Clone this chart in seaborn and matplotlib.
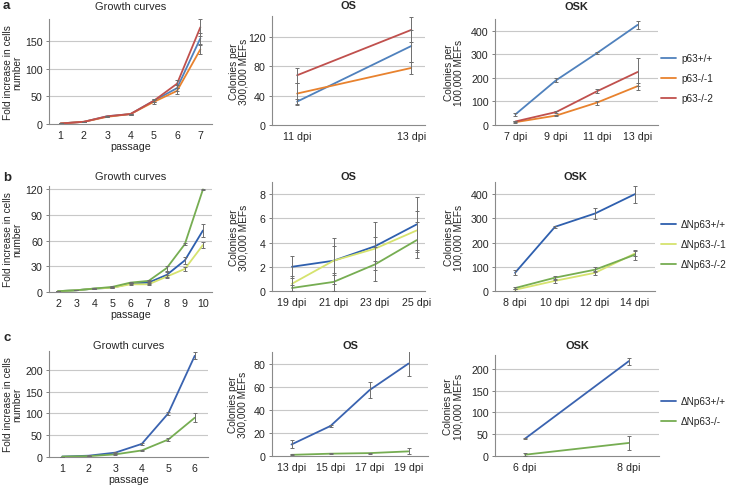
import numpy as np
import matplotlib.pyplot as plt
import matplotlib.lines as mlines
import pandas as pd
import seaborn as sns

#================================ data ================================
# row a
a_growth_x = ["1", "2", "3", "4", "5", "6", "7"]
a_growth_wt = [1, 4, 14, 18, 42, 65, 155]
a_growth_ko1 = [1, 4, 13, 18, 40, 60, 135]
a_growth_ko2 = [1, 4, 14, 18, 42, 73, 175]
a_growth_err_wt = [0, 0.5, 1, 1, 3, 5, 10]
a_growth_err_ko1 = [0, 0.5, 1, 1, 3, 5, 8]
a_growth_err_ko2 = [0, 0.5, 1, 1, 3, 7, 15]

a_os_x = ["11 dpi", "13 dpi"]
a_os_wt = [32, 108]
a_os_ko1 = [43, 78]
a_os_ko2 = [68, 130]
a_os_err_wt = [4, 22]
a_os_err_ko1 = [14, 8]
a_os_err_ko2 = [10, 17]

a_osk_x = ["7 dpi", "9 dpi", "11 dpi", "13 dpi"]
a_osk_wt = [45, 190, 305, 425]
a_osk_ko1 = [12, 40, 95, 165]
a_osk_ko2 = [15, 55, 143, 225]
a_osk_err_wt = [5, 8, 5, 18]
a_osk_err_ko1 = [3, 3, 8, 15]
a_osk_err_ko2 = [3, 3, 8, 58]

# row b
b_growth_x = ["2", "3", "4", "5", "6", "7", "8", "9", "10"]
b_growth_wt = [1, 2, 4, 5, 10, 11, 20, 37, 72]
b_growth_ko1 = [1, 2, 4, 5, 9, 9, 18, 27, 55]
b_growth_ko2 = [1, 2, 4, 6, 11, 13, 28, 56, 120]
b_growth_err_wt = [0, 0, 0.5, 0.5, 1, 1.5, 3, 4, 8]
b_growth_err_ko1 = [0, 0, 0.5, 0.5, 1, 1, 2, 2, 3]
b_growth_err_ko2 = [0, 0, 0.5, 0.5, 1, 1, 3, 1, 1]

b_os_x = ["19 dpi", "21 dpi", "23 dpi", "25 dpi"]
b_os_wt = [2.0, 2.5, 3.7, 5.5]
b_os_ko1 = [0.6, 2.5, 3.5, 5.0]
b_os_ko2 = [0.25, 0.75, 2.2, 4.2]
b_os_err_wt = [0.9, 1.9, 2.0, 2.3]
b_os_err_ko1 = [0.6, 1.2, 1.0, 1.6]
b_os_err_ko2 = [0.25, 0.75, 1.4, 1.5]

b_osk_x = ["8 dpi", "10 dpi", "12 dpi", "14 dpi"]
b_osk_wt = [75, 265, 320, 400]
b_osk_ko1 = [5, 42, 75, 155]
b_osk_ko2 = [12, 55, 88, 150]
b_osk_err_wt = [10, 5, 22, 35]
b_osk_err_ko1 = [3, 8, 8, 12]
b_osk_err_ko2 = [3, 8, 10, 20]

# row c
c_growth_x = ["1", "2", "3", "4", "5", "6"]
c_growth_wt = [1, 3, 10, 30, 100, 232]
c_growth_ko = [1, 2, 6, 15, 40, 90]
c_growth_err_wt = [0, 0.5, 1, 2, 4, 8]
c_growth_err_ko = [0, 0.5, 1, 1, 3, 10]

c_os_x = ["13 dpi", "15 dpi", "17 dpi", "19 dpi"]
c_os_wt = [10, 26, 57, 80]
c_os_ko = [1, 2, 2.5, 4]
c_os_err_wt = [3.5, 1, 7, 11]
c_os_err_ko = [0.5, 0.5, 0.5, 2.5]

c_osk_x = ["6 dpi", "8 dpi"]
c_osk_wt = [40, 218]
c_osk_ko = [3, 30]
c_osk_err_wt = [1, 8]
c_osk_err_ko = [4, 17]

labels_a = ["p63+/+", "p63-/-1", "p63-/-2"]
labels_b = ["\u0394Np63+/+", "\u0394Np63-/-1", "\u0394Np63-/-2"]
labels_c = ["\u0394Np63+/+", "\u0394Np63-/-"]
colors_a = ["#4f81bd", "#e8822e", "#c0504d"]
colors_b = ["#2e5fae", "#d6e36e", "#76ad52"]
colors_c = ["#3a63b0", "#76ad52"]

#================================ style ================================
sns.set_theme(style="white")
plt.rcParams['font.family'] = ['Liberation Sans', 'DejaVu Sans']
FS = 7.3

W, H = 731, 489
fig = plt.figure(figsize=(W / 100, H / 100), dpi=100)


def px_axes(x0, x1, y0, y1):
    return fig.add_axes([x0 / W, 1 - y1 / H, (x1 - x0) / W, (y1 - y0) / H])


def draw(ax, xlabels, series, errs, names, colors, ylim, yticks, xlim=None, xlabel=None):
    pos = np.arange(len(xlabels))
    rows = []
    for name, vals, err in zip(names, series, errs):
        for p, v, e in zip(pos, vals, err):
            rows.append({"pos": p, "val": v, "err": e, "group": name})
    df = pd.DataFrame(rows)
    sns.lineplot(data=df, x="pos", y="val", hue="group", palette=dict(zip(names, colors)),
                 legend=False, linewidth=1.3, ax=ax, zorder=3)
    ax.errorbar(df["pos"], df["val"], yerr=df["err"], fmt="none", ecolor="#6e6e6e",
                elinewidth=0.7, capsize=1.5, capthick=0.7, zorder=4)
    if xlim is None:
        xlim = (-0.5, len(xlabels) - 0.5)
    ax.set_xlim(*xlim)
    ax.set_ylim(*ylim)
    ax.set_xticks(pos)
    ax.set_xticklabels(xlabels, fontsize=FS + 0.4)
    ax.set_xticks(np.arange(len(xlabels) - 1) + 0.5, minor=True)
    ax.set_yticks(yticks)
    ax.set_yticklabels([str(t) for t in yticks], fontsize=FS + 0.4)
    ax.tick_params(axis="x", which="major", length=0, pad=4)
    ax.tick_params(axis="x", which="minor", length=2.5, color="#808080", width=0.7)
    ax.tick_params(axis="y", length=2.5, color="#808080", width=0.7, pad=2, left=True)
    for t in yticks[1:]:
        ax.axhline(t, color="#c8c8c8", lw=0.8, zorder=1)
    for s in ["top", "right"]:
        ax.spines[s].set_visible(False)
    for s in ["left", "bottom"]:
        ax.spines[s].set_color("#8a8a8a")
        ax.spines[s].set_linewidth(0.8)
    ax.set_xlabel(xlabel if xlabel else "", fontsize=FS + 0.4, labelpad=1)
    ax.set_ylabel("")
    ax.set_facecolor("white")


def ylab(ax, text, xr):
    # xr: right edge of the rotated label, in axes fraction
    ax.set_ylabel(text, fontsize=FS, linespacing=0.95)
    ax.yaxis.set_label_coords(xr, 0.5)


def title(x0, x1, yc, text, bold):
    fig.text((x0 + x1) / 2 / W, 1 - yc / H, text, ha="center", va="center",
             fontsize=FS + 0.6, fontweight="bold" if bold else "normal")


def legend(handles_names, colors, yc):
    hs = [mlines.Line2D([], [], color=c, lw=1.3) for c in colors]
    fig.legend(hs, handles_names, loc="center left", bbox_to_anchor=(661 / W, 1 - yc / H),
               frameon=False, fontsize=7.2, handlelength=1.5, handletextpad=0.5,
               labelspacing=1.0, borderpad=0, borderaxespad=0)


growth_lab = "Fold increase in cells\nnumber"
os_lab = "Colonies per\n300,000 MEFs"
osk_lab = "Colonies per\n100,000 MEFs"

#================================ row a ================================
ax = px_axes(49, 212, 20, 125)
draw(ax, a_growth_x, [a_growth_wt, a_growth_ko1, a_growth_ko2],
     [a_growth_err_wt, a_growth_err_ko1, a_growth_err_ko2], labels_a, colors_a,
     (0, 190), [0, 50, 100, 150], xlabel="passage")
ylab(ax, growth_lab, -0.163)
title(49, 212, 7, "Growth curves", False)

ax = px_axes(272, 425, 17, 126)
draw(ax, a_os_x, [a_os_wt, a_os_ko1, a_os_ko2], [a_os_err_wt, a_os_err_ko1, a_os_err_ko2],
     labels_a, colors_a, (0, 149), [0, 40, 80, 120], xlim=(-0.22, 1.12))
ylab(ax, os_lab, -0.155)
title(272, 425, 6, "OS", True)

ax = px_axes(495, 658, 20, 126)
draw(ax, a_osk_x, [a_osk_wt, a_osk_ko1, a_osk_ko2], [a_osk_err_wt, a_osk_err_ko1, a_osk_err_ko2],
     labels_a, colors_a, (0, 450), [0, 100, 200, 300, 400])
ylab(ax, osk_lab, -0.195)
title(495, 658, 7, "OSK", True)
legend(labels_a, colors_a, 79)

#================================ row b ================================
ax = px_axes(49, 212, 187, 293)
draw(ax, b_growth_x, [b_growth_wt, b_growth_ko1, b_growth_ko2],
     [b_growth_err_wt, b_growth_err_ko1, b_growth_err_ko2], labels_b, colors_b,
     (0, 124), [0, 30, 60, 90, 120], xlabel="passage")
ylab(ax, growth_lab, -0.163)
title(49, 212, 177, "Growth curves", False)

ax = px_axes(272, 425, 183, 292)
draw(ax, b_os_x, [b_os_wt, b_os_ko1, b_os_ko2], [b_os_err_wt, b_os_err_ko1, b_os_err_ko2],
     labels_b, colors_b, (0, 9), [0, 2, 4, 6, 8], xlim=(-0.48, 3.2))
ylab(ax, os_lab, -0.155)
title(272, 425, 177, "OS", True)

ax = px_axes(495, 655, 183, 292)
draw(ax, b_osk_x, [b_osk_wt, b_osk_ko1, b_osk_ko2], [b_osk_err_wt, b_osk_err_ko1, b_osk_err_ko2],
     labels_b, colors_b, (0, 450), [0, 100, 200, 300, 400])
ylab(ax, osk_lab, -0.195)
title(495, 655, 177, "OSK", True)
legend(labels_b, colors_b, 245)

#================================ row c ================================
ax = px_axes(49, 208, 352, 458)
draw(ax, c_growth_x, [c_growth_wt, c_growth_ko], [c_growth_err_wt, c_growth_err_ko],
     labels_c, colors_c, (0, 243), [0, 50, 100, 150, 200], xlabel="passage")
ylab(ax, growth_lab, -0.168)
title(49, 208, 346, "Growth curves", False)

ax = px_axes(272, 428, 353, 457)
draw(ax, c_os_x, [c_os_wt, c_os_ko], [c_os_err_wt, c_os_err_ko],
     labels_c, colors_c, (0, 90), [0, 20, 40, 60, 80])
ylab(ax, os_lab, -0.155)
title(272, 428, 346, "OS", True)

ax = px_axes(495, 659, 356, 457)
draw(ax, c_osk_x, [c_osk_wt, c_osk_ko], [c_osk_err_wt, c_osk_err_ko],
     labels_c, colors_c, (0, 232), [0, 50, 100, 150, 200], xlim=(-0.29, 1.29))
ylab(ax, osk_lab, -0.195)
title(495, 659, 346, "OSK", True)
legend(labels_c, colors_c, 412)

# panel letters
for letter, yc in [("a", 6), ("b", 178), ("c", 338)]:
    fig.text(3 / W, 1 - yc / H, letter, fontsize=9.5, fontweight="bold", ha="left", va="center")

fig.savefig("out.png", dpi=100, facecolor="white")
